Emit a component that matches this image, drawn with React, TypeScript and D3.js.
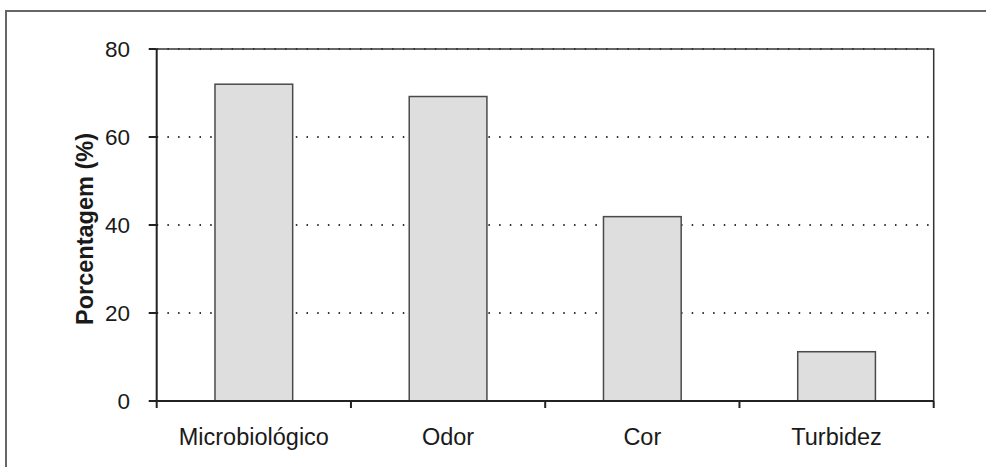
import React, { useEffect, useRef } from 'react';
import * as d3 from 'd3';

const categories = ['Microbiológico', 'Odor', 'Cor', 'Turbidez'];
const values = [72.0, 69.2, 41.9, 11.2];
const yTicks = [0, 20, 40, 60, 80];
const yTitle = 'Porcentagem (%)';

const App: React.FC = () => {
  const svgRef = useRef<SVGSVGElement>(null);

  const width = 986;
  const height = 467;
  const left = 156.7;
  const right = 933.7;
  const top = 49;
  const bottom = 401;

  useEffect(() => {
    if (!svgRef.current) return;
    const svg = d3.select(svgRef.current);
    svg.selectAll('*').remove();

    const font = 'Arial, "Liberation Sans", Helvetica, sans-serif';

    // outer frame (only top and left visible)
    svg.append('path')
      .attr('d', `M6,${height} L6,11 L${width},11`)
      .attr('fill', 'none')
      .attr('stroke', '#666')
      .attr('stroke-width', 2);

    const x = d3.scaleBand().domain(categories).range([left, right]).paddingInner(0).paddingOuter(0);
    const y = d3.scaleLinear().domain([0, 80]).range([bottom, top]);
    const barW = x.bandwidth() * 0.4;

    // dotted gridlines
    yTicks.filter(t => t > 0).forEach(t => {
      svg.append('line')
        .attr('x1', left).attr('x2', right)
        .attr('y1', y(t)).attr('y2', y(t))
        .attr('stroke', '#333')
        .attr('stroke-width', 2)
        .attr('stroke-dasharray', '1.5,9.2');
    });

    // top and right border
    svg.append('path')
      .attr('d', `M${left},${top} L${right},${top} L${right},${bottom}`)
      .attr('fill', 'none')
      .attr('stroke', '#333')
      .attr('stroke-width', 1.5);

    // bars
    categories.forEach((c, i) => {
      const cx = (x(c) as number) + x.bandwidth() / 2;
      svg.append('rect')
        .attr('x', cx - barW / 2)
        .attr('y', y(values[i]))
        .attr('width', barW)
        .attr('height', y(0) - y(values[i]))
        .attr('fill', '#dedede')
        .attr('stroke', '#4a4a4a')
        .attr('stroke-width', 1.5);

      svg.append('text')
        .text(c)
        .attr('x', cx)
        .attr('y', 445)
        .attr('text-anchor', 'middle')
        .attr('font-family', font)
        .attr('font-size', 23.5)
        .attr('fill', '#1a1a1a');
    });

    // axes
    svg.append('line')
      .attr('x1', left).attr('x2', left)
      .attr('y1', top).attr('y2', bottom + 7)
      .attr('stroke', '#222').attr('stroke-width', 2);
    svg.append('line')
      .attr('x1', left).attr('x2', right)
      .attr('y1', bottom).attr('y2', bottom)
      .attr('stroke', '#222').attr('stroke-width', 2);

    // x ticks at category boundaries
    categories.slice(1).concat(['__end']).forEach((c) => {
      const xx = c === '__end' ? right : (x(c) as number);
      svg.append('line')
        .attr('x1', xx).attr('x2', xx)
        .attr('y1', bottom).attr('y2', bottom + 7)
        .attr('stroke', '#222').attr('stroke-width', 2);
    });

    // y ticks + labels
    yTicks.forEach(t => {
      svg.append('line')
        .attr('x1', left - 8).attr('x2', left)
        .attr('y1', y(t)).attr('y2', y(t))
        .attr('stroke', '#222').attr('stroke-width', 2);
      svg.append('text')
        .text(t)
        .attr('x', 130)
        .attr('y', y(t) + 8)
        .attr('text-anchor', 'end')
        .attr('font-family', font)
        .attr('font-size', 22.5)
        .attr('fill', '#1a1a1a');
    });

    // y title
    svg.append('text')
      .text(yTitle)
      .attr('transform', `translate(93,${(top + bottom) / 2 + 4}) rotate(-90)`)
      .attr('text-anchor', 'middle')
      .attr('font-family', font)
      .attr('font-size', 23.5)
      .attr('font-weight', 'bold')
      .attr('fill', '#1a1a1a');
  }, []);

  return (
    <div style={{ position: 'fixed', left: 0, top: 0, width, height, background: '#fff' }}>
      <svg ref={svgRef} width={width} height={height} viewBox={`0 0 ${width} ${height}`} />
    </div>
  );
};

export default App;
